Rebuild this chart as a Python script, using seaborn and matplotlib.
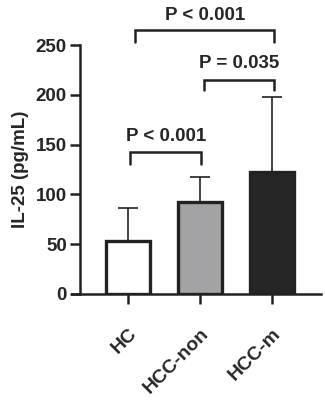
import matplotlib
matplotlib.use("Agg")
import matplotlib.pyplot as plt
import seaborn as sns
import pandas as pd

groups = ["HC", "HCC-non", "HCC-m"]
means = [53, 92, 122]
sds = [33, 25, 76]
bar_colors = ["#ffffff", "#a3a3a5", "#262626"]
yticks = [0, 50, 100, 150, 200, 250]
comparisons = [("HC", "HCC-non", "P < 0.001"),
               ("HCC-non", "HCC-m", "P = 0.035"),
               ("HC", "HCC-m", "P < 0.001")]

sns.set_style("ticks")
plt.rcParams["font.family"] = ["Liberation Sans", "DejaVu Sans"]
plt.rcParams["font.weight"] = "bold"
plt.rcParams["xtick.labelsize"] = 13.5
plt.rcParams["ytick.labelsize"] = 13.5

df = pd.DataFrame({"group": groups, "mean": means})

fig = plt.figure(figsize=(3.25, 4.01), dpi=100)
ax = fig.add_axes([72 / 325, 1 - 294 / 401, (321 - 72) / 325, (294 - 45) / 401])

sns.barplot(data=df, x="group", y="mean", hue="group", palette=bar_colors,
            width=0.61, edgecolor="#222222", linewidth=2.4, legend=False,
            errorbar=None, ax=ax, zorder=3)

xs = list(range(len(groups)))
ax.errorbar(xs, means, yerr=[[0] * len(sds), sds], fmt="none",
            ecolor="#222222", elinewidth=1.2, capsize=7, capthick=1.2, zorder=2)

for s in ["top", "right"]:
    ax.spines[s].set_visible(False)
for s in ["left", "bottom"]:
    ax.spines[s].set_linewidth(1.8)
    ax.spines[s].set_color("#222222")
ax.spines["left"].set_position(("data", -0.667))

ax.set_xlim(-0.778, 2.68)
ax.set_ylim(0, 250)
ax.set_yticks(yticks)
ax.set_yticklabels([str(t) for t in yticks], fontsize=13.5, fontweight="bold")
ax.set_xticks(xs)
ax.set_xticklabels(groups, fontsize=14, fontweight="bold", rotation=45,
                   ha="right", rotation_mode="anchor")
ax.tick_params(axis="both", length=7.5, width=1.8, color="#222222", pad=2)
ax.tick_params(axis="x", pad=15)
ax.set_xlabel("")
ax.set_ylabel("IL-25 (pg/mL)", fontsize=13.5, fontweight="bold", labelpad=5)

idx = {g: i for i, g in enumerate(groups)}
specs = [(0.03, 0.02, 143, 131, 158),
         (0.06, 0.03, 215, 205, 231),
         (0.10, 0.03, 265, 253, 280)]
for (g1, g2, label), (o1, o2, yb, yl, yt) in zip(comparisons, specs):
    x1 = idx[g1] + o1
    x2 = idx[g2] + o2
    ax.plot([x1, x1, x2, x2], [yl, yb, yb, yl], color="#222222", lw=1.8,
            clip_on=False, solid_joinstyle="miter")
    ax.text((x1 + x2) / 2, yt, label, ha="center", va="center",
            fontsize=13.5, fontweight="bold", clip_on=False)

fig.savefig("out.png", dpi=100)
